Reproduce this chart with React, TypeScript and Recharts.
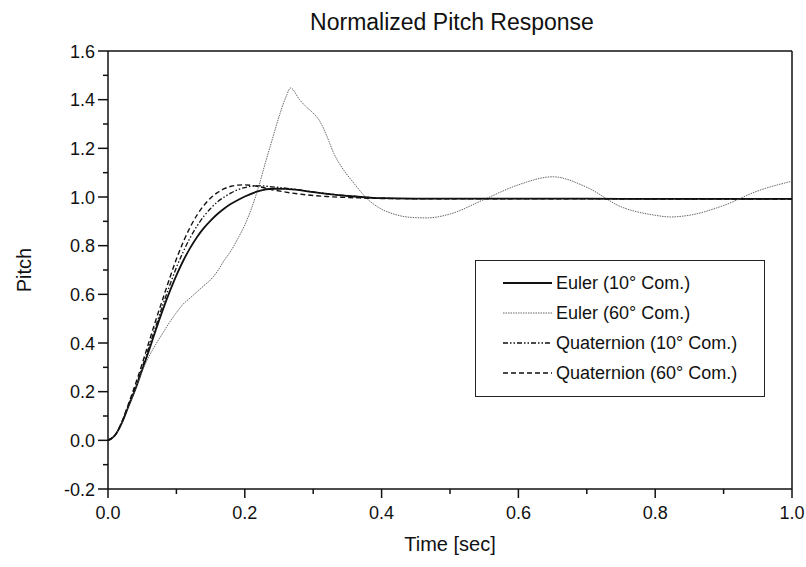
import React from 'react';
import { LineChart, Line, XAxis, YAxis, ReferenceLine } from 'recharts';

const FONT = '"Liberation Sans", Arial, Helvetica, sans-serif';

// shared time grid for Euler 10°, Quaternion 10°, Quaternion 60°
const T = [0, 0.01, 0.02, 0.03, 0.04, 0.05, 0.06, 0.07, 0.08, 0.09, 0.1, 0.11, 0.12, 0.13, 0.14, 0.15, 0.16, 0.17, 0.18, 0.19, 0.2, 0.22, 0.24, 0.26, 0.28, 0.3, 0.32, 0.34, 0.36, 0.38, 0.4, 0.45, 0.5, 0.6, 0.7, 0.8, 0.9, 1.0];
const euler10 = [0, 0.02, 0.07, 0.14, 0.21, 0.29, 0.37, 0.455, 0.535, 0.61, 0.678, 0.738, 0.79, 0.835, 0.872, 0.903, 0.93, 0.953, 0.972, 0.988, 1.002, 1.024, 1.034, 1.033, 1.028, 1.02, 1.013, 1.007, 1.002, 0.998, 0.995, 0.993, 0.993, 0.993, 0.993, 0.992, 0.992, 0.992];
const quat10 = [0, 0.02, 0.072, 0.145, 0.22, 0.3, 0.385, 0.47, 0.555, 0.635, 0.71, 0.775, 0.832, 0.88, 0.92, 0.953, 0.98, 1.0, 1.017, 1.03, 1.039, 1.046, 1.042, 1.036, 1.029, 1.021, 1.014, 1.008, 1.003, 0.998, 0.995, 0.993, 0.993, 0.993, 0.993, 0.992, 0.992, 0.992];
const quat60 = [0, 0.02, 0.075, 0.15, 0.23, 0.315, 0.405, 0.495, 0.58, 0.665, 0.745, 0.815, 0.875, 0.925, 0.965, 0.996, 1.018, 1.034, 1.044, 1.049, 1.05, 1.043, 1.03, 1.02, 1.012, 1.006, 1.002, 0.999, 0.997, 0.995, 0.994, 0.993, 0.993, 0.993, 0.993, 0.992, 0.992, 0.992];

// Euler 60° has its own time grid
const T60 = [0, 0.01, 0.02, 0.03, 0.04, 0.05, 0.06, 0.07, 0.08, 0.09, 0.1, 0.11, 0.12, 0.13, 0.14, 0.15, 0.16, 0.17, 0.18, 0.19, 0.2, 0.21, 0.22, 0.23, 0.24, 0.25, 0.26, 0.267, 0.28, 0.29, 0.3, 0.31, 0.32, 0.33, 0.34, 0.35, 0.36, 0.37, 0.38, 0.4, 0.42, 0.44, 0.466, 0.5, 0.55, 0.6, 0.65, 0.7, 0.75, 0.8, 0.822, 0.85, 0.9, 0.95, 1.0];
const euler60 = [0, 0.02, 0.07, 0.14, 0.21, 0.285, 0.345, 0.395, 0.44, 0.485, 0.525, 0.56, 0.585, 0.61, 0.635, 0.66, 0.695, 0.74, 0.78, 0.83, 0.885, 0.955, 1.04, 1.14, 1.235, 1.33, 1.41, 1.448, 1.4, 1.37, 1.345, 1.31, 1.25, 1.18, 1.13, 1.09, 1.055, 1.02, 0.99, 0.95, 0.928, 0.917, 0.914, 0.93, 0.99, 1.05, 1.083, 1.04, 0.96, 0.925, 0.918, 0.925, 0.965, 1.025, 1.065];

const X_TICKS = [0, 0.1, 0.2, 0.3, 0.4, 0.5, 0.6, 0.7, 0.8, 0.9, 1.0];
const Y_TICKS = [-0.2, -0.1, 0, 0.1, 0.2, 0.3, 0.4, 0.5, 0.6, 0.7, 0.8, 0.9, 1.0, 1.1, 1.2, 1.3, 1.4, 1.5, 1.6];

const TITLE = 'Normalized Pitch Response';
const X_LABEL = 'Time [sec]';
const Y_LABEL = 'Pitch';

const SERIES = [
  { name: 'Euler (10° Com.)', t: T, v: euler10, stroke: '#111', width: 1.8, dash: undefined as string | undefined },
  { name: 'Euler (60° Com.)', t: T60, v: euler60, stroke: '#555', width: 0.9, dash: '1.5 1' },
  { name: 'Quaternion (10° Com.)', t: T, v: quat10, stroke: '#111', width: 1.3, dash: '5 2 1.5 2 1.5 2' },
  { name: 'Quaternion (60° Com.)', t: T, v: quat60, stroke: '#111', width: 1.4, dash: '5 3' },
];

const build = (t: number[], v: number[]) => t.map((tt, i) => ({ t: tt, v: v[i] }));

const XTick = (props: any) => {
  const { x, y, payload } = props;
  const val = payload.value as number;
  const major = Math.round(val * 10) % 2 === 0;
  return (
    <g>
      <line x1={x} y1={y} x2={x} y2={y + (major ? 9 : 5)} stroke="#111" strokeWidth={1.5} />
      {major && (
        <text x={x} y={y + 30} textAnchor="middle" fontSize={18} fontFamily={FONT} fill="#111">
          {val.toFixed(1)}
        </text>
      )}
    </g>
  );
};

const YTick = (props: any) => {
  const { x, y, payload } = props;
  const val = payload.value as number;
  const major = Math.round(val * 10) % 2 === 0;
  return (
    <g>
      <line x1={x} y1={y} x2={x - (major ? 10 : 5)} y2={y} stroke="#111" strokeWidth={1.5} />
      {major && (
        <text x={x - 13} y={y + 6.5} textAnchor="end" fontSize={18} fontFamily={FONT} fill="#111">
          {val.toFixed(1)}
        </text>
      )}
    </g>
  );
};

const LegendBox = () => (
  <div
    style={{
      position: 'absolute',
      left: 475,
      top: 260,
      width: 290,
      height: 137,
      border: '1.5px solid #222',
      boxSizing: 'border-box',
      background: '#fff',
      paddingTop: 7,
      fontFamily: FONT,
      fontSize: 18,
      color: '#111',
    }}
  >
    {SERIES.map((s) => (
      <div key={s.name} style={{ display: 'flex', alignItems: 'center', height: 30 }}>
        <svg width={77} height={10} style={{ flex: 'none' }}>
          <line x1={27} y1={5} x2={76} y2={5} stroke={s.stroke} strokeWidth={s.width} strokeDasharray={s.dash} />
        </svg>
        <span style={{ marginLeft: 3, whiteSpace: 'nowrap' }}>{s.name}</span>
      </div>
    ))}
  </div>
);

export default function App() {
  return (
    <div style={{ position: 'absolute', left: 0, top: 0, width: 806, height: 567, background: '#fff', fontFamily: FONT }}>
      <LineChart width={806} height={567} margin={{ top: 51, right: 14, bottom: 48, left: 0 }}>
        <XAxis
          dataKey="t"
          type="number"
          domain={[0, 1]}
          ticks={X_TICKS}
          tick={<XTick />}
          tickLine={false}
          tickSize={0}
          tickMargin={0}
          height={30}
          axisLine={{ stroke: '#111', strokeWidth: 1.5 }}
          allowDataOverflow
        />
        <YAxis
          type="number"
          domain={[-0.2, 1.6]}
          ticks={Y_TICKS}
          tick={<YTick />}
          tickLine={false}
          tickSize={0}
          tickMargin={0}
          width={108}
          axisLine={{ stroke: '#111', strokeWidth: 1.5 }}
          allowDataOverflow
        />
        <ReferenceLine y={1.6} stroke="#111" strokeWidth={1.5} />
        <ReferenceLine x={1} stroke="#111" strokeWidth={1.5} />
        {SERIES.map((s) => (
          <Line
            key={s.name}
            data={build(s.t, s.v)}
            dataKey="v"
            type="monotone"
            stroke={s.stroke}
            strokeWidth={s.width}
            strokeDasharray={s.dash}
            dot={false}
            activeDot={false}
            isAnimationActive={false}
          />
        ))}
      </LineChart>
      <div style={{ position: 'absolute', left: 152, width: 600, top: 9, textAlign: 'center', fontSize: 23, lineHeight: '26px', color: '#111' }}>
        {TITLE}
      </div>
      <div style={{ position: 'absolute', left: 300, width: 300, top: 532, textAlign: 'center', fontSize: 20, lineHeight: '24px', color: '#111' }}>
        {X_LABEL}
      </div>
      <div
        style={{
          position: 'absolute',
          left: 24,
          top: 270,
          transform: 'translate(-50%, -50%) rotate(-90deg)',
          fontSize: 20,
          lineHeight: '24px',
          color: '#111',
          whiteSpace: 'nowrap',
        }}
      >
        {Y_LABEL}
      </div>
      <LegendBox />
    </div>
  );
}
